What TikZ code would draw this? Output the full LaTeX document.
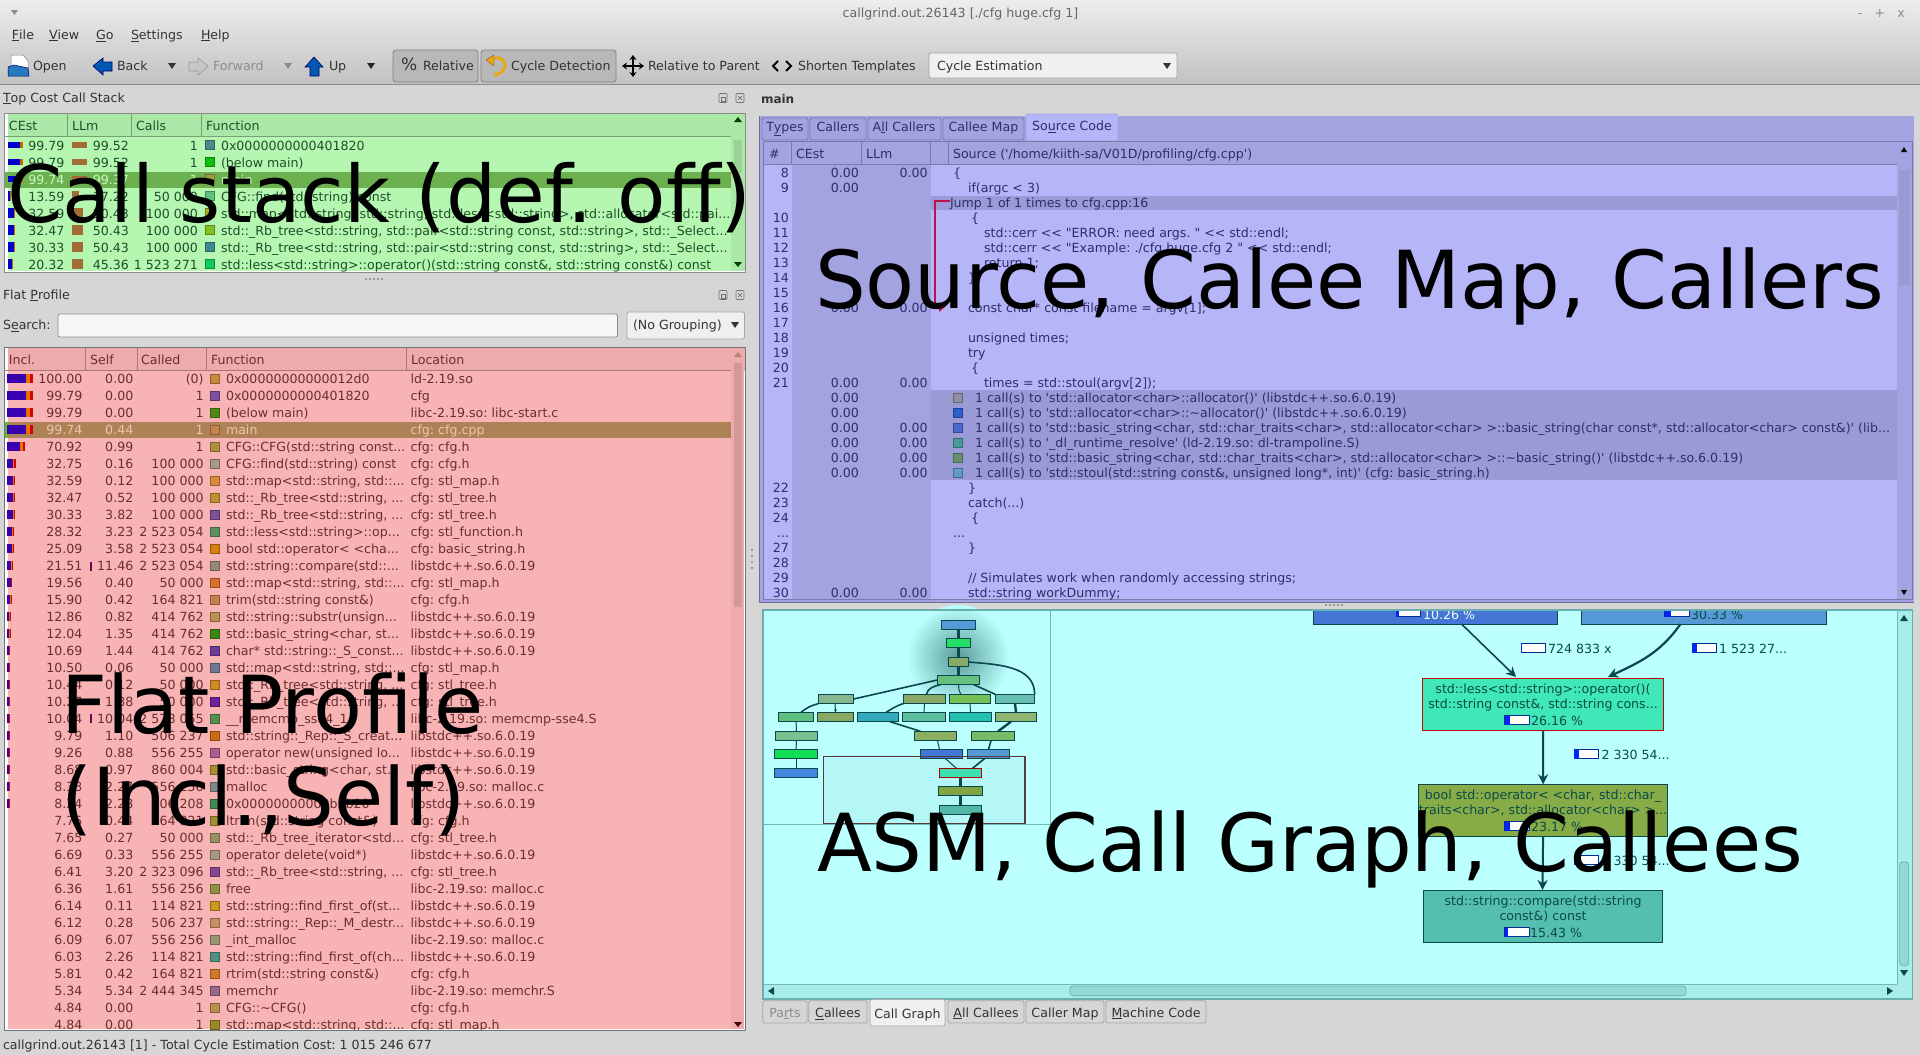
\documentclass[tikz,border=0pt]{standalone}
\usepackage{fontspec}
\usetikzlibrary{arrows.meta,calc,shapes.geometric}
\newfontfamily\ui{DejaVu Sans}
\newcounter{tn}\newcounter{fr}\newcounter{sr}\newcounter{cr}
\definecolor{winbg}{HTML}{D6D6D6}
\definecolor{stackbg}{HTML}{B5F7B1}
\definecolor{stackhd}{HTML}{ABE8A8}
\definecolor{stacktx}{HTML}{1F4F2A}
\definecolor{flatbg}{HTML}{F8B4B4}
\definecolor{flathd}{HTML}{EEABAB}
\definecolor{flattx}{HTML}{6B2E2E}
\definecolor{srcbg}{HTML}{B5B5F7}
\definecolor{srcdk}{HTML}{A3A3E2}
\definecolor{srcband}{HTML}{9A9AD6}
\definecolor{srctx}{HTML}{2E2E6B}
\definecolor{graphbg}{HTML}{BBFFFF}
\definecolor{graphtx}{HTML}{0A4A4A}
\definecolor{edgec}{HTML}{0B484C}
\definecolor{hlframe}{HTML}{5A3A3A}
\definecolor{selgreen}{HTML}{6DB04F}
\definecolor{selbrown}{HTML}{AD8256}
\definecolor{seltx}{HTML}{EAC7AE}
\definecolor{barblue}{HTML}{3A00B0}
\definecolor{jumpc}{HTML}{C0104A}
\definecolor{scrollg}{HTML}{A8ECEC}
\definecolor{cyclec}{HTML}{E8A810}
\tikzset{
  tx/.style={inner sep=0pt,outer sep=0pt,anchor=mid west,yshift=-2pt,font=\ui\fontsize{12.6}{14}\selectfont,text=black!80},
  rowtx/.style={yshift=-1pt},
  big/.style={inner sep=0pt,outer sep=0pt,anchor=base west,text=black,font=\ui\fontsize{80}{90}\selectfont},
  gnode/.style={draw=edgec,line width=1pt,inner sep=0pt,outer sep=0pt},
  bnode/.style={draw=edgec,line width=.8pt,inner sep=0pt,outer sep=0pt},
  ged/.style={draw=edgec,line width=1.6pt},
  gar/.style={draw=edgec,line width=2pt,-{Stealth[length=10pt,width=10pt]}},
  tabn/.style={draw=black!35,fill=winbg,rounded corners=2pt,line width=.8pt},
  tabon/.style={draw=black!35,fill=black!6,rounded corners=2pt,line width=.8pt},
  ptab/.style={draw=srcband!80!black,fill=srcdk,rounded corners=2pt,line width=.8pt},
  ptabon/.style={draw=srcdk,fill=srcbg,rounded corners=2pt,line width=.8pt},
}
\newcommand\Tx[4][]{\stepcounter{tn}\node[tx,#1] (t\arabic{tn}) at (#2,#3) {#4};}
\newcommand\Tri[3]{\fill[#3] ({#1-4},{#2-3}) -- ({#1+4},{#2-3}) -- (#1,{#2+3}) -- cycle;}
\newcommand\Sw[3]{\definecolor{tmpc}{HTML}{#3}\fill[tmpc,draw=tmpc!70!black,line width=.6pt] ({#1},{#2-4.3}) rectangle ({#1+9},{#2+4.3});}
% flat profile row
\newcommand\FR[6]{\pgfmathsetmacro\ry{378.7+17*\value{fr}}\stepcounter{fr}%
 \pgfmathparse{#1>8?1:0}\ifnum\pgfmathresult=1
 \pgfmathsetmacro\bw{#1*0.26}%
 \fill[barblue] (7,{\ry-4.5}) rectangle ({7+.72*\bw},{\ry+4.5});
 \fill[orange!90!black] ({7+.72*\bw},{\ry-4.5}) rectangle ({7+.88*\bw},{\ry+4.5});
 \fill[red!85!black] ({7+.88*\bw},{\ry-4.5}) rectangle ({7+\bw},{\ry+4.5});
 \fi
 \Tx[rowtx,anchor=mid east]{82.4}{\ry}{#1}\Tx[rowtx,anchor=mid east]{133.3}{\ry}{#2}\Tx[rowtx,anchor=mid east]{203.6}{\ry}{#3}%
 \Sw{210.6}{\ry}{#4}\Tx[rowtx]{226}{\ry}{#5}\Tx[rowtx]{410.6}{\ry}{#6}}
% call stack row
\newcommand\CR[9]{\pgfmathsetmacro\ry{145+17*\value{cr}}\stepcounter{cr}%
 \fill[blue!80!black] (8,{\ry-#2/2}) rectangle ({8+.8*#1},{\ry+#2/2});
 \fill[orange!80!black] ({8+.8*#1},{\ry-#2/2}) rectangle ({8+#1},{\ry+#2/2});
 \fill[brown!85!black] (72,{\ry-#4/2}) rectangle ({72+#3},{\ry+#4/2});
 \Tx[rowtx,anchor=mid east]{64.5}{\ry}{#5}\Tx[rowtx,anchor=mid east]{129}{\ry}{#6}\Tx[rowtx,anchor=mid east]{198}{\ry}{#7}%
 \Sw{205.6}{\ry}{#8}\Tx[rowtx]{221}{\ry}{#9}}
% source row
\newcommand\SR[5]{\pgfmathsetmacro\ry{172.7+15*\value{sr}}\stepcounter{sr}%
 \Tx[rowtx,anchor=mid east]{789}{\ry}{#1}\Tx[rowtx,anchor=mid east]{859}{\ry}{#2}\Tx[rowtx,anchor=mid east]{927.6}{\ry}{#3}\Tx[rowtx]{#4}{\ry}{#5}}
\newcommand\SC[4]{\pgfmathsetmacro\ry{172.7+15*\value{sr}}\stepcounter{sr}%
 \Tx[rowtx,anchor=mid east]{859}{\ry}{#1}\Tx[rowtx,anchor=mid east]{927.6}{\ry}{#2}\Sw{953}{\ry}{#3}\Tx[rowtx]{975}{\ry}{#4}}
% bird's-eye node
\newcommand\BN[6]{\definecolor{tmpc}{HTML}{#6}\node[bnode,fill=tmpc,minimum width={(#3-#2)/3*1pt},minimum height={(#5-#4)/3*1pt}] (#1) at ({750+(#2+#3)/6},{600+(#4+#5)/6}) {};}
% big graph node
\newcommand\GN[6]{\definecolor{tmpc}{HTML}{#6}\node[gnode,fill=tmpc,minimum width={(#3-#2)*1pt},minimum height={(#5-#4)*1pt}] (#1) at ({(#2+#3)/2},{(#4+#5)/2}) {};}
\newcommand\GB[3]{\fill[white,draw=edgec!60!blue,line width=.9pt] (#1,{#2-4.5}) rectangle ({#1+24.5},{#2+4.5});\fill[blue!85!cyan] (#1,{#2-4.5}) rectangle ({#1+#3},{#2+4.5});}
\begin{document}
\frenchspacing
\begin{tikzpicture}[x=1pt,y=-1pt]
\useasboundingbox (0,0) rectangle (1920,1055);
\fill[winbg] (0,0) rectangle (1920,1055);
% ---- window top
\shade[top color=black!7,bottom color=black!24] (0,0) rectangle (1920,84);
\draw[black!45,line width=.8pt] (0,84) -- (1920,84);
\fill[black!45] (11,10) -- (18,10) -- (14.5,15) -- cycle;
\Tx[anchor=mid,text=black!60]{960.5}{13}{callgrind.out.26143 [./cfg huge.cfg 1]}
\Tx[anchor=mid,text=black!45]{1860}{13}{-}\Tx[anchor=mid,text=black!45]{1880}{13}{+}\Tx[anchor=mid,text=black!45]{1901}{13}{x}
\Tx{12}{35}{\underline{F}ile}\Tx{49}{35}{\underline{V}iew}\Tx{96}{35}{\underline{G}o}\Tx{131}{35}{\underline{S}ettings}\Tx{201}{35}{\underline{H}elp}
% toolbar buttons
\draw[black!50,fill=black!28,rounded corners=3pt,line width=.8pt] (393,50) rectangle (478,82);
\draw[black!50,fill=black!28,rounded corners=3pt,line width=.8pt] (481,50) rectangle (616,82);
% open icon
\fill[white,draw=black!50,line width=.5pt] (11,55) -- (23,55) -- (28,61) -- (28,72) -- (11,72) -- cycle;
\fill[blue!45!cyan!70!black!85,draw=blue!40!black,line width=.5pt] (8,67) -- (14,65) -- (28,68) -- (29,76) -- (8,76) -- cycle;
\Tx{33}{66}{Open}
% back, forward, up
\fill[blue!50!cyan!70!black,draw=blue!40!black,line width=.6pt] (93,66) -- (103,58) -- (103,62) -- (112,62) -- (112,71) -- (103,71) -- (103,75) -- cycle;
\Tx{117}{66}{Back}\Tri{172}{66}{black!80}
\fill[black!22,draw=black!40,line width=.6pt] (208,66) -- (198,58) -- (198,62) -- (189,62) -- (189,71) -- (198,71) -- (198,75) -- cycle;
\Tx[text=black!45]{213}{66}{Forward}\Tri{288}{66}{black!45}
\fill[blue!50!cyan!70!black,draw=blue!40!black,line width=.6pt] (314,57) -- (323,67) -- (319,67) -- (319,76) -- (310,76) -- (310,67) -- (305,67) -- cycle;
\Tx{329}{66}{Up}\Tri{371}{66}{black!85}
\Tx[font=\ui\fontsize{17}{18}\selectfont]{401}{66}{\%}
\Tx{423}{66}{Relative}
% cycle icon
\draw[cyclec,line width=3pt] (491,60) .. controls (500,54) and (508,62) .. (504,69) .. controls (502,73) and (497,75) .. (494,75);
\fill[cyclec,draw=brown!70!black,line width=.4pt] (486,60) -- (494,55) -- (494,66) -- cycle;
\Tx{511}{66}{Cycle Detection}
% relative to parent icon
\draw[black,line width=1.7pt,{Stealth[length=5pt,width=7pt]}-{Stealth[length=5pt,width=7pt]}] (622,66) -- (644,66);
\draw[black,line width=1.7pt,{Stealth[length=5pt,width=7pt]}-{Stealth[length=5pt,width=7pt]}] (633,55) -- (633,77);
\Tx{648}{66}{Relative to Parent}
\draw[black,line width=2pt] (778,61) -- (773,66) -- (778,71);
\draw[black,line width=2pt] (786,61) -- (791,66) -- (786,71);
\Tx{798}{66}{Shorten Templates}
\draw[black!35,fill=black!6,rounded corners=2pt,line width=.8pt] (929,53) rectangle (1177,78);
\Tx{937}{66}{Cycle Estimation}\Tri{1167}{66}{black!80}
% ---- dock titles
\Tx{3}{98}{\underline{T}op Cost Call Stack}
\Tx{3}{295}{Flat \underline{P}rofile}
\foreach \yy in {98,295}{
 \draw[black!55,line width=.7pt,rounded corners=1pt] (719,{\yy-4.5}) rectangle (727,{\yy+4.5});
 \draw[black!55,line width=.7pt,rounded corners=1pt] (736,{\yy-4.5}) rectangle (744,{\yy+4.5});
 \draw[black!55,line width=.7pt] (738,{\yy-2}) -- (742,{\yy+2}) (742,{\yy-2}) -- (738,{\yy+2});
 \draw[black!55,line width=.6pt] (721,{\yy-1}) rectangle (725,{\yy+3});
}
% ---- stack panel
\fill[white] (4,113) rectangle (745,272);
\fill[stackbg] (8,136) rectangle (731,271);
\fill[stackhd] (8,113) rectangle (745,136);
\fill[stackhd] (731,136) rectangle (745,271);
\fill[stackbg!85!black] (733.5,140) rectangle (741.5,173);
\fill[selgreen] (4,172) rectangle (731,188);
\draw[black!45,line width=1pt] (4,113) rectangle (745,272);
\draw[stackhd!70!black,line width=.7pt] (67.4,113) -- (67.4,136) (131,113) -- (131,136) (201.6,113) -- (201.6,136) (4,136) -- (731,136);
\begin{scope}[tx/.append style={text=stacktx}]
\Tx[rowtx]{9}{125}{CEst}\Tx[rowtx]{72}{125}{LLm}\Tx[rowtx]{136}{125}{Calls}\Tx[rowtx]{206}{125}{Function}
\CR{15}{6}{15}{6}{99.79}{99.52}{1}{4A8A8A}{0x0000000000401820}
\CR{15}{6}{15}{6}{99.79}{99.52}{1}{10C010}{(below main)}
\begingroup\tikzset{tx/.append style={text=stackbg!80!white}}
\CR{15}{6}{15}{6}{99.74}{99.37}{1}{A0A040}{main}
\endgroup
\CR{3}{10}{7}{10}{13.59}{17.22}{50 000}{60C080}{CFG::find(std::string) const}
\CR{7}{10}{11}{10}{32.59}{50.43}{100 000}{A0B020}{std::map<std::string, std::string, std::less<std::string>, std::allocator<std::pai...}
\CR{7}{10}{11}{10}{32.47}{50.43}{100 000}{80C020}{std::\_Rb\_tree<std::string, std::pair<std::string const, std::string>, std::\_Select...}
\CR{7}{10}{11}{10}{30.33}{50.43}{100 000}{408890}{std::\_Rb\_tree<std::string, std::pair<std::string const, std::string>, std::\_Select...}
\CR{5}{10}{11}{10}{20.32}{45.36}{1 523 271}{10C860}{std::less<std::string>::operator()(std::string const\&, std::string const\&) const}
\end{scope}
\fill[black!75!green] (738,117) -- (734,122) -- (742,122) -- cycle;
\fill[black!75!green] (738,267) -- (734,262) -- (742,262) -- cycle;
\foreach \i in {0,1,2,3,4}{\fill[black!40] ({365+\i*4},278) rectangle ({367+\i*4},280);}
% ---- search row
\Tx{3}{325}{S\underline{e}arch:}
\draw[black!45,fill=black!3,rounded corners=2pt,line width=.8pt] (58,314) rectangle (617.5,337);
\draw[black!35,fill=black!6,rounded corners=2pt,line width=.8pt] (627,312) rectangle (744.5,339);
\Tx{633}{325}{(No Grouping)}\Tri{735}{325}{black!80}
% ---- flat panel
\fill[white] (4,347.5) rectangle (745,1030);
\fill[flatbg] (8,370.5) rectangle (731,1028.5);
\fill[flathd] (8,347.5) rectangle (745,370.5);
\fill[flathd] (731,370.5) rectangle (744,1028.5);
\fill[flatbg!85!black] (733.5,363) rectangle (741.5,607);
\fill[selbrown] (8,422) rectangle (731,438);
\fill[selbrown!50!green] (4,422) rectangle (8,438);
\draw[black!55,line width=1pt] (4,347.5) rectangle (745,1030);
\draw[flathd!70!black,line width=.7pt] (85,347.5) -- (85,370.5) (137,347.5) -- (137,370.5) (206.5,347.5) -- (206.5,370.5) (406,347.5) -- (406,370.5) (4,370.5) -- (731,370.5);
\begin{scope}
\clip (4,347.5) rectangle (745,1029);
\begin{scope}[tx/.append style={text=flattx}]
\Tx[rowtx]{9}{359}{Incl.}\Tx[rowtx]{90}{359}{Self}\Tx[rowtx]{141}{359}{Called}\Tx[rowtx]{211}{359}{Function}\Tx[rowtx]{411}{359}{Location}
\FR{100.00}{0.00}{(0)}{C98A3A}{0x00000000000012d0}{ld-2.19.so}
\FR{99.79}{0.00}{1}{7E4EA0}{0x0000000000401820}{cfg}
\FR{99.79}{0.00}{1}{4E8A10}{(below main)}{libc-2.19.so: libc-start.c}
\begingroup\tikzset{tx/.append style={text=seltx}}
\FR{99.74}{0.44}{1}{C8844A}{main}{cfg: cfg.cpp}
\endgroup
\FR{70.92}{0.99}{1}{B09040}{CFG::CFG(std::string const...}{cfg: cfg.h}
\FR{32.75}{0.16}{100 000}{A89888}{CFG::find(std::string) const}{cfg: cfg.h}
\FR{32.59}{0.12}{100 000}{D88A38}{std::map<std::string, std::...}{cfg: stl\_map.h}
\FR{32.47}{0.52}{100 000}{C09030}{std::\_Rb\_tree<std::string, ...}{cfg: stl\_tree.h}
\FR{30.33}{3.82}{100 000}{7E5098}{std::\_Rb\_tree<std::string, ...}{cfg: stl\_tree.h}
\FR{28.32}{3.23}{2 523 054}{60905F}{std::less<std::string>::op...}{cfg: stl\_function.h}
\FR{25.09}{3.58}{2 523 054}{D87F10}{bool std::operator< <cha...}{cfg: basic\_string.h}
\FR{21.51}{11.46}{2 523 054}{988878}{std::string::compare(std::...}{libstdc++.so.6.0.19}
\FR{19.56}{0.40}{50 000}{D8702A}{std::map<std::string, std::...}{cfg: stl\_map.h}
\FR{15.90}{0.42}{164 821}{C88050}{trim(std::string const\&)}{cfg: cfg.h}
\FR{12.86}{0.82}{414 762}{B89050}{std::string::substr(unsign...}{libstdc++.so.6.0.19}
\FR{12.04}{1.35}{414 762}{3C8810}{std::basic\_string<char, st...}{libstdc++.so.6.0.19}
\FR{10.69}{1.44}{414 762}{6A3E98}{char* std::string::\_S\_const...}{libstdc++.so.6.0.19}
\FR{10.50}{0.06}{50 000}{707890}{std::map<std::string, std::...}{cfg: stl\_map.h}
\FR{10.44}{0.12}{50 000}{D08820}{std::\_Rb\_tree<std::string, ...}{cfg: stl\_tree.h}
\FR{10.27}{1.88}{50 000}{702098}{std::\_Rb\_tree<std::string, ...}{cfg: stl\_tree.h}
\FR{10.04}{10.04}{2 578 055}{559050}{\_\_memcmp\_sse4\_1}{libc-2.19.so: memcmp-sse4.S}
\FR{9.79}{1.10}{506 237}{D06A10}{std::string::\_Rep::\_S\_creat...}{libstdc++.so.6.0.19}
\FR{9.26}{0.88}{556 255}{A86090}{operator new(unsigned lo...}{libstdc++.so.6.0.19}
\FR{8.68}{0.97}{860 004}{A89030}{std::basic\_string<char, st...}{libstdc++.so.6.0.19}
\FR{8.33}{2.27}{556 256}{808888}{malloc}{libc-2.19.so: malloc.c}
\FR{8.24}{2.28}{506 208}{408858}{0x00000000000b5b20}{libstdc++.so.6.0.19}
\FR{7.75}{0.44}{164 821}{A09030}{ltrim(std::string const\&)}{cfg: cfg.h}
\FR{7.65}{0.27}{50 000}{989060}{std::\_Rb\_tree\_iterator<std...}{cfg: stl\_tree.h}
\FR{6.69}{0.33}{556 255}{A89880}{operator delete(void*)}{libstdc++.so.6.0.19}
\FR{6.41}{3.20}{2 323 096}{884890}{std::\_Rb\_tree<std::string, ...}{cfg: stl\_tree.h}
\FR{6.36}{1.61}{556 256}{909040}{free}{libc-2.19.so: malloc.c}
\FR{6.14}{0.11}{114 821}{C89820}{std::string::find\_first\_of(st...}{libstdc++.so.6.0.19}
\FR{6.12}{0.28}{506 237}{C89060}{std::string::\_Rep::\_M\_destr...}{libstdc++.so.6.0.19}
\FR{6.09}{6.07}{556 256}{989870}{\_int\_malloc}{libc-2.19.so: malloc.c}
\FR{6.03}{2.26}{114 821}{509080}{std::string::find\_first\_of(ch...}{libstdc++.so.6.0.19}
\FR{5.81}{0.42}{164 821}{D07828}{rtrim(std::string const\&)}{cfg: cfg.h}
\FR{5.34}{5.34}{2 444 345}{986888}{memchr}{libc-2.19.so: memchr.S}
\FR{4.84}{0.00}{1}{B89050}{CFG::\textasciitilde CFG()}{cfg: cfg.h}
\FR{4.84}{0.00}{1}{988828}{std::map<std::string, std::...}{cfg: stl\_map.h}
\end{scope}
\end{scope}
\fill[red!60!blue!80!black] (90,561.5) rectangle (92,570.5);
\fill[red!60!blue!80!black] (90,714.2) rectangle (92,723.2);
\fill[flattx!40!flatbg] (738,352) -- (734,357) -- (742,357) -- cycle;
\fill[black!75!red] (738,1027) -- (734,1022) -- (742,1022) -- cycle;
\Tx{3}{1045}{callgrind.out.26143 [1] - Total Cycle Estimation Cost: 1 015 246 677}
\foreach \i in {0,1,2,3}{\fill[black!40] (751,{549+\i*6}) rectangle (753,{551+\i*6});}
% ---- source panel
\Tx[font=\ui\bfseries\fontsize{12}{14}\selectfont]{761}{99}{main}
\fill[srcdk] (759,116) rectangle (1914,602);
\draw[srcband!70!black,line width=1pt] (759,116) -- (759,602) -- (1914,602);
\fill[srcbg] (763,141) rectangle (1912,599);
\draw[ptab] (762,118) rectangle (808,140);\draw[ptab] (810,118) rectangle (866,140);\draw[ptab] (868,118) rectangle (941,140);\draw[ptab] (943,118) rectangle (1024,140);
\draw[ptabon] (1026,114) rectangle (1118,141);
\begin{scope}[tx/.append style={text=srctx}]
\Tx[anchor=mid]{785}{127}{T\underline{y}pes}\Tx[anchor=mid]{838}{127}{Callers}\Tx[anchor=mid]{904}{127}{A\underline{l}l Callers}\Tx[anchor=mid]{983.5}{127}{Callee Map}\Tx[anchor=mid]{1072}{126}{So\underline{u}rce Code}
\fill[srcdk] (763,141) rectangle (1912,164);
\fill[srcdk] (791.5,164) rectangle (931,599);
\fill[srcband] (931,195.7) rectangle (1897,210);
\fill[srcband] (931,390) rectangle (1897,480);
\fill[srcdk] (1897,164) rectangle (1912,599);
\fill[srcbg!85!black] (1899,170) rectangle (1910,285);
\draw[srcband!80!black,line width=.8pt] (763,141) rectangle (1912,599);
\draw[srcband!80!black,line width=.7pt] (791.5,141) -- (791.5,164) (861,141) -- (861,164) (930,141) -- (930,164) (948.5,141) -- (948.5,164) (763,164) -- (1897,164);
\Tx[rowtx]{769}{153.5}{\#}\Tx[rowtx]{796}{153.5}{CEst}\Tx[rowtx]{866}{153.5}{LLm}\Tx[rowtx]{953}{153.5}{Source ('/home/kiith-sa/V01D/profiling/cfg.cpp')}
\SR{8}{0.00}{0.00}{953}{\{}
\SR{9}{0.00}{}{968}{if(argc < 3)}
\SR{}{}{}{950}{Jump 1 of 1 times to cfg.cpp:16}
\SR{10}{}{}{971}{\{}
\SR{11}{}{}{984}{std::cerr << "ERROR: need args. " << std::endl;}
\SR{12}{}{}{984}{std::cerr << "Example: ./cfg huge.cfg 2 " << std::endl;}
\SR{13}{}{}{984}{return 1;}
\SR{14}{}{}{968}{\}}
\SR{15}{}{}{953}{}
\SR{16}{0.00}{0.00}{968}{const char* const filename = argv[1];}
\SR{17}{}{}{953}{}
\SR{18}{}{}{968}{unsigned times;}
\SR{19}{}{}{968}{try}
\SR{20}{}{}{971}{\{}
\SR{21}{0.00}{0.00}{984}{times = std::stoul(argv[2]);}
\SC{0.00}{}{9090A0}{1 call(s) to 'std::allocator<char>::allocator()' (libstdc++.so.6.0.19)}
\SC{0.00}{}{2E5FD0}{1 call(s) to 'std::allocator<char>::\textasciitilde allocator()' (libstdc++.so.6.0.19)}
\SC{0.00}{0.00}{4E66D0}{1 call(s) to 'std::basic\_string<char, std::char\_traits<char>, std::allocator<char> >::basic\_string(char const*, std::allocator<char> const\&)' (lib...}
\SC{0.00}{0.00}{4A9A9A}{1 call(s) to '\_dl\_runtime\_resolve' (ld-2.19.so: dl-trampoline.S)}
\SC{0.00}{0.00}{6A9070}{1 call(s) to 'std::basic\_string<char, std::char\_traits<char>, std::allocator<char> >::\textasciitilde basic\_string()' (libstdc++.so.6.0.19)}
\SC{0.00}{0.00}{5F9AC8}{1 call(s) to 'std::stoul(std::string const\&, unsigned long*, int)' (cfg: basic\_string.h)}
\SR{22}{}{}{968}{\}}
\SR{23}{}{}{968}{catch(...)}
\SR{24}{}{}{971}{\{}
\SR{...}{}{}{953}{...}
\SR{27}{}{}{968}{\}}
\SR{28}{}{}{953}{}
\SR{29}{}{}{968}{// Simulates work when randomly accessing strings;}
\SR{30}{0.00}{0.00}{968}{std::string workDummy;}
\end{scope}
\draw[jumpc,line width=2.4pt] (950,201) -- (935,201) -- (935,307) -- (941,307);
\fill[jumpc] (945,307) -- (939,302) -- (939,312) -- cycle;
\fill[black] (1904,147) -- (1901,152) -- (1907,152) -- cycle;
\fill[black] (1904,595) -- (1901,590) -- (1907,590) -- cycle;
\foreach \i in {0,1,2,3,4}{\fill[black!40] ({1325+\i*4},604) rectangle ({1327+\i*4},606);}
% ---- graph panel
\fill[graphbg] (763,610) rectangle (1912,999);
\shade[inner color=graphtx!55!graphbg,outer color=graphbg] (958,657) circle (52);
\draw[graphtx!40!graphbg,line width=1pt] (1050.5,610) -- (1050.5,824.5) (763,824.5) -- (1050.5,824.5);
\BN{n1}{574}{677}{61}{89}{5599D6}
\BN{n2}{589}{662}{115}{143}{22DD66}
\BN{n3}{595}{656}{172}{200}{88AA66}
\BN{n4}{562}{689}{226}{254}{66C080}
\BN{n5}{205}{311}{283}{311}{88B890}
\BN{n6}{460}{587}{283}{311}{88AA66}
\BN{n7}{598}{722}{283}{311}{77C055}
\BN{n8}{736}{854}{283}{311}{66BFB0}
\BN{n9}{85}{191}{337}{365}{60C080}
\BN{n10}{202}{311}{337}{365}{88AA60}
\BN{n11}{322}{446}{337}{365}{33AAC0}
\BN{n12}{457}{587}{337}{365}{5CC0A0}
\BN{n13}{598}{725}{337}{365}{22C0B0}
\BN{n14}{736}{860}{337}{365}{90B570}
\BN{n15}{76}{203}{394}{422}{77C090}
\BN{n16}{73}{203}{448}{476}{11DD55}
\BN{n17}{73}{203}{505}{533}{4488DD}
\BN{n18}{493}{620}{394}{422}{88B060}
\BN{n19}{664}{794}{394}{422}{77BB66}
\BN{n20}{511}{638}{448}{476}{4477D5}
\BN{n21}{652}{779}{448}{476}{5599D6}
\BN{n22}{568}{695}{505}{533}{40E8B8}
\BN{n23}{565}{698}{559}{587}{86AB47}
\BN{n24}{568}{695}{616}{644}{55BFAF}
\draw[red!70!black,line width=.8pt] (n22.south west) rectangle (n22.north east);
% bird's-eye edges
\draw[ged,line width=3pt] (n1) -- (n2);
\draw[ged,line width=3pt] (n2) -- (n3);
\draw[ged,line width=3pt] (n3) -- (n4);
\draw[ged] (n3.east) to[out=-5,in=90] (n8.north east);
\draw[ged] (n4.west) -- (n5.east);
\draw[ged] ($(n4.south west)+(3,0)$) to[out=195,in=80] ($(n6.north)+(2,0)$);
\draw[ged,line width=1pt] ($(n4.south)+(0,0)$) to[out=-85,in=125] ($(n7.north)+(-9,0)$);
\draw[ged] ($(n4.south east)+(-6,0)$) -- ($(n8.north west)+(0,0)$);
\draw[ged] (n5.south west) to[out=195,in=40] ($(n9.north)+(5,0)$);
\draw[ged,line width=1pt,-{Stealth[length=3pt,width=3pt]}] ($(n5.south)+(-1,0)$) -- ($(n10.north)+(0,0)$);
\draw[ged] ($(n6.south west)+(0,0)$) to[out=195,in=30] ($(n11.north)+(8,0)$);
\draw[ged,line width=1pt] ($(n6.south)+(0,0)$) -- (n12.north);
\draw[ged,line width=1pt] (n7.south) -- (n13.north);
\draw[ged,line width=2.4pt] (n8.south) -- (n14.north);
\draw[ged,line width=1pt] (n9.south) -- (n15.north);
\draw[ged,line width=1pt] (n15.south) -- (n16.north);
\draw[ged,line width=1pt] (n16.south) -- (n17.north);
\draw[ged] ($(n11.south)+(12,0)$) -- ($(n18.north)+(-15,0)$);
\draw[ged,line width=2.4pt] ($(n14.south)+(-5,0)$) -- ($(n19.north)+(5,0)$);
\draw[ged,line width=1pt] ($(n18.south)+(2,0)$) to[out=-80,in=100] ($(n20.north)+(-2,0)$);
\draw[ged] ($(n19.south)+(-2,0)$) -- ($(n21.north)+(0,0)$);
\draw[ged,line width=1pt] ($(n20.south)+(4,0)$) -- ($(n22.north)+(-4,0)$);
\draw[ged] ($(n21.south)+(-4,0)$) -- ($(n22.north)+(12,0)$);
\draw[ged,line width=2.4pt] (n22.south) -- (n23.north);
\draw[ged,line width=2.4pt] (n23.south) -- (n24.north);
\fill[black,opacity=.03] (823.7,756.7) rectangle (1025,823.3);
\draw[hlframe,line width=1.3pt] (823.7,756.7) rectangle (1025,823.3);
% main graph
\begin{scope}
\clip (1051,611) rectangle (1896,983);
\GN{box1}{1313.5}{1557.5}{572}{624}{4477D5}
\GN{box2}{1581}{1826}{572}{624}{5599D6}
\GB{1396}{612}{2.5}\GB{1664.5}{612}{6}
\Tx[rowtx,text=white!85!graphbg]{1423}{614}{10.26 \%}
\Tx[rowtx,text=graphtx]{1691}{614}{30.33 \%}
\end{scope}
\GN{less}{1422.4}{1663.7}{678}{730.7}{40E8B8}
\draw[red!75!black,line width=1pt] (less.south west) rectangle (less.north east);
\GN{boolop}{1418.4}{1667.8}{784.3}{836.7}{86AB47}
\GN{cmp}{1423}{1662}{890}{942}{55BFAF}
\draw[gar,line width=1.6pt] ($(box1.south)+(26,0)$) -- ($(less.north)+(-27,-1)$);
\draw[gar,line width=2.2pt] ($(box2.south)+(-23,0)$) to[out=-125,in=25] ($(less.north)+(65,-1)$);
\draw[gar] (less.south) -- (boolop.north);
\draw[gar] (boolop.south) -- (cmp.north);
\begin{scope}[tx/.append style={text=graphtx}]
\Tx[rowtx,anchor=mid]{1543}{688.7}{std::less<std::string>::operator()(}
\Tx[rowtx,anchor=mid]{1543}{703.7}{std::string const\&, std::string cons...}
\GB{1504.5}{720}{5.5}\Tx[rowtx]{1531}{720.5}{26.16 \%}
\Tx[rowtx,anchor=mid]{1543}{794.7}{bool std::operator< <char, std::char\_}
\Tx[rowtx,anchor=mid]{1543}{809.7}{traits<char>, std::allocator<char> >...}
\GB{1504.5}{826}{5}\Tx[rowtx]{1531}{826.5}{23.17 \%}
\Tx[rowtx,anchor=mid]{1543}{900.7}{std::string::compare(std::string}
\Tx[rowtx,anchor=mid]{1543}{915.7}{const\&) const}
\GB{1504.5}{932}{3.5}\Tx[rowtx]{1530}{932.5}{15.43 \%}
\GB{1521}{648}{1}\Tx[rowtx]{1548}{648.5}{724 833 x}
\GB{1692}{648}{5}\Tx[rowtx]{1719}{648.5}{1 523 27...}
\GB{1574}{754}{5}\Tx[rowtx]{1601.6}{754.5}{2 330 54...}
\GB{1574}{860}{5}\Tx[rowtx]{1601.6}{860.5}{2 330 54...}
\end{scope}
% scrollbars of graph view
\fill[scrollg] (1897,610) rectangle (1912,984);
\fill[scrollg] (763,984) rectangle (1912,998);
\draw[graphtx!40!graphbg,line width=.8pt] (763,984) -- (1897,984) (1897,610) -- (1897,984);
\draw[graphtx!45!graphbg,fill=graphtx!22!graphbg,rounded corners=3pt,line width=.7pt] (1899.6,862) rectangle (1908.6,965.7);
\draw[graphtx!45!graphbg,fill=graphtx!22!graphbg,rounded corners=3pt,line width=.7pt] (1070,986) rectangle (1686,995.7);
\fill[edgec] (1904,615) -- (1900,621) -- (1908,621) -- cycle;
\fill[edgec] (1904,976) -- (1900,970) -- (1908,970) -- cycle;
\fill[edgec] (768,991) -- (774,987) -- (774,995) -- cycle;
\fill[edgec] (1893,991) -- (1887,987) -- (1887,995) -- cycle;
\draw[graphtx!45!graphbg,line width=1.2pt] (763,610) rectangle (1912.5,999);
% bottom tabs
\draw[tabn] (762.7,1000.7) rectangle (807,1023);
\draw[tabn] (808.7,1000.7) rectangle (867,1023);
\draw[tabon] (870,999.3) rectangle (945,1026);
\draw[tabn] (948,1000.7) rectangle (1024,1023);
\draw[tabn] (1026,1000.7) rectangle (1104,1023);
\draw[tabn] (1106,1000.7) rectangle (1206,1023);
\Tx[rowtx,anchor=mid,text=black!45]{785}{1012}{Pa\underline{r}ts}
\Tx[rowtx,anchor=mid]{838}{1012}{\underline{C}allees}
\Tx[rowtx,anchor=mid]{907.5}{1013.5}{Call Graph}
\Tx[rowtx,anchor=mid]{986}{1012}{\underline{A}ll Callees}
\Tx[rowtx,anchor=mid]{1065}{1012}{Caller Map}
\Tx[rowtx,anchor=mid]{1156}{1012}{\underline{M}achine Code}
% big labels
\node[big,font=\ui\fontsize{79.2}{90}\selectfont] (bigstack) at (7,222) {Call stack (def. off)};
\node[big] (bigsrc) at (815,308) {Source, Calee Map, Callers};
\node[big] (bigflat1) at (61,733) {Flat Profile};
\node[big] (bigflat2) at (61,825) {(Incl.,Self)};
\node[big] (bigasm) at (817,871) {ASM, Call Graph, Callees};
\end{tikzpicture}
\end{document}
